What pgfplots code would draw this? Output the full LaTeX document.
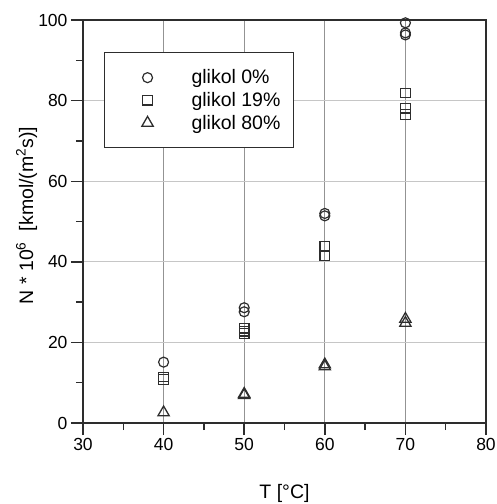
\documentclass[border=0pt]{standalone}
\usepackage{fontspec}
\setmainfont{Liberation Sans}
\usepackage{pgfplots}
\pgfplotsset{compat=1.18}
\definecolor{ink}{RGB}{45,45,45}

\begin{document}
\begin{tikzpicture}
\useasboundingbox (-83pt,-81pt) rectangle (413pt,423pt);
\begin{axis}[
  at={(0pt,0pt)}, anchor=south west,
  scale only axis, width=403pt, height=403pt,
  xmin=30, xmax=80, ymin=0, ymax=100,
  xtick={30,40,...,80}, ytick={0,20,...,100},
  minor x tick num=1, minor y tick num=1,
  tick align=outside, xtick pos=bottom, ytick pos=left,
  major tick length=12pt, minor tick length=7pt,
  every tick/.style={ink, line width=1.4pt},
  axis line style={ink, line width=1.4pt},
  grid=major,
  major x grid style={gray!85, line width=0.8pt},
  major y grid style={gray!45, line width=1pt},
  clip=false,
  font=\fontsize{17.5}{20}\selectfont,
  /pgf/number format/assume math mode=true,
  xlabel={T [°C]},
  ylabel={N * 10\textsuperscript{6}\ \ [kmol/(m\textsuperscript{2}s)]},
  xlabel style={at={(axis description cs:0.5,-0.176)}, anchor=center, font=\fontsize{19.5}{22}\selectfont},
  ylabel style={at={(axis description cs:-0.14,0.515)}, anchor=center, font=\fontsize{19.5}{22}\selectfont},
  legend style={at={(axis description cs:0.052,0.92)}, anchor=north west,
    draw=ink, line width=1.2pt, inner xsep=11pt, inner ysep=15pt,
    row sep=3pt,
    font=\fontsize{19.5}{22}\selectfont, nodes={inner sep=2pt}},
  legend cell align=left,
  legend image code/.code={\path[draw=none,fill=none] (-32pt,0pt) rectangle (42pt,0pt);
    \draw[#1] plot coordinates {(0pt,0pt)};},
]
\addplot[only marks, mark=o, mark size=5pt, ink, line width=1.2pt] coordinates {
  (40,15.1)(50,28.6)(50,27.6)(60,52.0)(60,51.4)(70,99.3)(70,96.8)(70,96.3)
};
\addlegendentry{glikol 0\%}
\addplot[only marks, mark=square, mark size=4.8pt, ink, line width=1.2pt] coordinates {
  (40,11.4)(40,10.8)(50,23.5)(50,22.8)(50,22.2)(60,43.8)(60,41.6)(70,81.9)(70,78.1)(70,76.6)
};
\addlegendentry{glikol 19\%}
\addplot[only marks, mark=triangle, mark size=6.5pt, ink, line width=1.3pt] coordinates {
  (40,2.6)(50,7.2)(50,6.9)(60,14.5)(60,14.0)(70,25.8)(70,24.8)
};
\addlegendentry{glikol 80\%}
\end{axis}
\end{tikzpicture}
\end{document}
